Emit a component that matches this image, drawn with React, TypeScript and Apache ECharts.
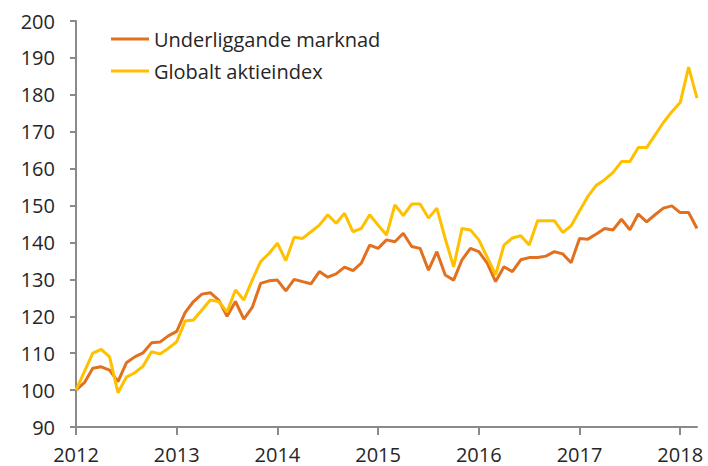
import React, { useEffect, useRef } from "react";
import * as echarts from "echarts";

const startYear = 2012;
const seriesNames = ["Underliggande marknad", "Globalt aktieindex"];
const underliggande = [
  100, 102, 105.9, 106.3, 105.4, 102.3, 107.4, 109, 110.1, 112.8, 113, 114.7,
  115.9, 121, 124, 126, 126.4, 124.4, 120, 124, 119.2, 122.4, 128.9, 129.6,
  129.8, 126.9, 130, 129.4, 128.8, 132.1, 130.6, 131.5, 133.3, 132.4, 134.4, 139.3,
  138.4, 140.7, 140.2, 142.5, 138.9, 138.4, 132.5, 137.5, 131.2, 129.8, 135.3, 138.4,
  137.5, 134.4, 129.4, 133.4, 132.1, 135.3, 135.9, 135.9, 136.3, 137.5, 136.9, 134.5,
  141.1, 140.9, 142.3, 143.8, 143.4, 146.3, 143.4, 147.7, 145.6, 147.5, 149.3, 149.9,
  148.1, 148.1, 143.8,
];
const globalt = [
  100, 105, 110, 111, 109, 99.3, 103.5, 104.7, 106.5, 110.4, 109.8, 111.3,
  113.1, 118.7, 119, 121.7, 124.4, 124, 121.2, 127.1, 124.4, 129.8, 134.8, 137,
  139.8, 135.1, 141.4, 141.1, 142.9, 144.7, 147.5, 145.2, 147.9, 142.9, 143.8, 147.5,
  144.7, 142, 150.2, 147.3, 150.4, 150.4, 146.6, 149.3, 141, 133.4, 143.8, 143.4,
  140.7, 136, 131.2, 139.3, 141.2, 141.8, 139.3, 145.9, 145.9, 145.9, 142.7, 144.5,
  148.5, 152.5, 155.5, 157, 159, 161.9, 161.9, 165.7, 165.7, 169.1, 172.5, 175.4,
  177.9, 187.5, 179.1,
];
const xTickLabels = [2012, 2013, 2014, 2015, 2016, 2017, 2018];
const yMin = 90;
const yMax = 200;
const yStep = 10;

const FONT = "'Open Sans', sans-serif";
const TEXT_COLOR = "#262626";
const AXIS_COLOR = "#8a8a8a";

export default function App() {
  const ref = useRef<HTMLDivElement>(null);
  useEffect(() => {
    if (!ref.current) return;
    const chart = echarts.init(ref.current, null, { renderer: "svg" });
    const toPts = (arr: number[]) => arr.map((v, i) => [startYear + i / 12, v]);
    const xEnd = startYear + (underliggande.length - 1) / 12;
    chart.setOption({
      animation: false,
      grid: { left: 76, right: 708 - 697, top: 21, bottom: 466 - 427, containLabel: false },
      legend: {
        orient: "vertical",
        left: 106,
        top: 23,
        icon: "rect",
        itemWidth: 38,
        itemHeight: 3,
        itemGap: 10,
        data: seriesNames,
        textStyle: { fontFamily: FONT, fontSize: 20, color: TEXT_COLOR, lineHeight: 22 },
      },
      xAxis: {
        type: "value",
        min: startYear,
        max: xEnd,
        interval: 1,
        splitLine: { show: false },
        axisLine: { show: true, lineStyle: { color: AXIS_COLOR, width: 2 } },
        axisTick: { show: true, length: 8, customValues: xTickLabels, lineStyle: { color: AXIS_COLOR, width: 2 } },
        axisLabel: {
          customValues: xTickLabels,
          formatter: (v: number) => String(Math.round(v)),
          fontFamily: FONT,
          fontSize: 20,
          color: TEXT_COLOR,
          margin: 17,
        },
      },
      yAxis: {
        type: "value",
        min: yMin,
        max: yMax,
        interval: yStep,
        splitLine: { show: false },
        axisLine: { show: true, lineStyle: { color: AXIS_COLOR, width: 2 } },
        axisTick: { show: true, length: 6, lineStyle: { color: AXIS_COLOR, width: 2 } },
        axisLabel: { fontFamily: FONT, fontSize: 20, color: TEXT_COLOR, margin: 21 },
      },
      series: [
        {
          name: seriesNames[0],
          type: "line",
          data: toPts(underliggande),
          showSymbol: false,
          symbol: "none",
          lineStyle: { color: "#E2701F", width: 3 },
          itemStyle: { color: "#E2701F" },
        },
        {
          name: seriesNames[1],
          type: "line",
          data: toPts(globalt),
          showSymbol: false,
          symbol: "none",
          lineStyle: { color: "#FFC000", width: 3 },
          itemStyle: { color: "#FFC000" },
        },
      ],
    });
    return () => chart.dispose();
  }, []);
  return (
    <div
      ref={ref}
      style={{ position: "absolute", left: 0, top: 0, width: 708, height: 466 }}
    />
  );
}
